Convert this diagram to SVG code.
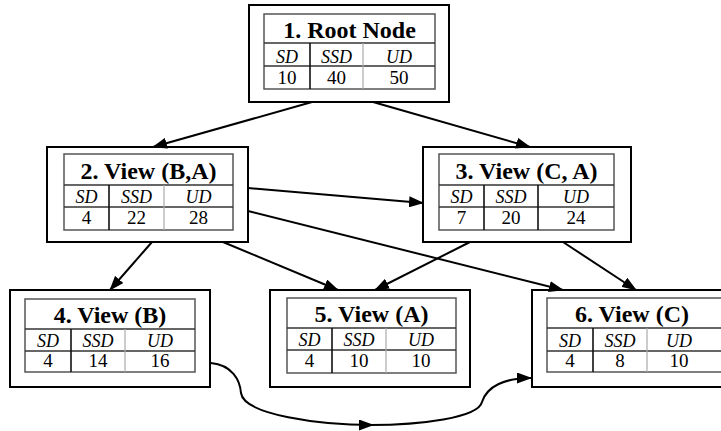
<svg xmlns="http://www.w3.org/2000/svg" width="721" height="431" viewBox="0 0 721 431" font-family="Liberation Serif, Tinos, Times New Roman, serif">
<style>
.outer{fill:#fff;stroke:#000;stroke-width:2}
.tbl{fill:none;stroke:#555;stroke-width:1.5}
.hl{stroke:#333;stroke-width:1.5}
.v1{stroke:#111;stroke-width:1.6}
.v2{stroke:#aaa;stroke-width:1.2}
text{text-anchor:middle;fill:#000}
.title{font-weight:bold;font-size:24px}
.hdr{font-style:italic;font-size:18px}
.num{font-size:19px}
.conn{fill:none;stroke:#000;stroke-width:2}
</style>
<defs>
<marker id="ah" markerWidth="15" markerHeight="11" refX="14" refY="5.5" orient="auto" markerUnits="userSpaceOnUse"><path d="M0,0 L15,5.5 L0,11 z" fill="#000"/></marker>
</defs>
<rect x="0" y="0" width="721" height="431" fill="#fff"/>

<g id="n1">
<rect class="outer" x="249" y="5" width="200" height="97"/>
<rect class="tbl" x="264" y="14" width="171" height="75"/>
<line class="hl" x1="264" y1="43" x2="435" y2="43"/>
<line class="hl" x1="264" y1="66" x2="435" y2="66"/>
<line class="v1" x1="310" y1="43" x2="310" y2="89"/>
<line class="v2" x1="363" y1="43" x2="363" y2="89"/>
<text class="title" x="349.5" y="38">1. Root Node</text>
<text class="hdr" x="287" y="63">SD</text><text class="hdr" x="336.5" y="63">SSD</text><text class="hdr" x="399" y="63">UD</text>
<text class="num" x="287" y="84">10</text><text class="num" x="336.5" y="84">40</text><text class="num" x="399" y="84">50</text>
</g>

<g id="n2">
<rect class="outer" x="47" y="147" width="201" height="95"/>
<rect class="tbl" x="64" y="154" width="169" height="76"/>
<line class="hl" x1="64" y1="185" x2="233" y2="185"/>
<line class="hl" x1="64" y1="207" x2="233" y2="207"/>
<line class="v1" x1="109" y1="185" x2="109" y2="230"/>
<line class="v2" x1="164" y1="185" x2="164" y2="230"/>
<text class="title" x="148.5" y="179">2. View (B,A)</text>
<text class="hdr" x="86.5" y="203">SD</text><text class="hdr" x="136.5" y="203">SSD</text><text class="hdr" x="198.5" y="203">UD</text>
<text class="num" x="86.5" y="224">4</text><text class="num" x="136.5" y="224">22</text><text class="num" x="198.5" y="224">28</text>
</g>

<g id="n3">
<rect class="outer" x="423" y="147" width="208" height="95"/>
<rect class="tbl" x="439" y="154" width="175" height="76"/>
<line class="hl" x1="439" y1="185" x2="614" y2="185"/>
<line class="hl" x1="439" y1="207" x2="614" y2="207"/>
<line class="v1" x1="484" y1="185" x2="484" y2="230"/>
<line class="v1" x1="538" y1="185" x2="538" y2="230"/>
<text class="title" x="526.5" y="179">3. View (C, A)</text>
<text class="hdr" x="461.5" y="203">SD</text><text class="hdr" x="511" y="203">SSD</text><text class="hdr" x="576" y="203">UD</text>
<text class="num" x="461.5" y="224">7</text><text class="num" x="511" y="224">20</text><text class="num" x="576" y="224">24</text>
</g>

<g id="n4">
<rect class="outer" x="10" y="290" width="200" height="97"/>
<rect class="tbl" x="25" y="299" width="170" height="73"/>
<line class="hl" x1="25" y1="329" x2="195" y2="329"/>
<line class="hl" x1="25" y1="351" x2="195" y2="351"/>
<line class="v1" x1="71" y1="329" x2="71" y2="372"/>
<line class="v2" x1="125" y1="329" x2="125" y2="372"/>
<text class="title" x="110" y="323">4. View (B)</text>
<text class="hdr" x="48" y="347">SD</text><text class="hdr" x="98" y="347">SSD</text><text class="hdr" x="160" y="347">UD</text>
<text class="num" x="48" y="367">4</text><text class="num" x="98" y="367">14</text><text class="num" x="160" y="367">16</text>
</g>

<g id="n5">
<rect class="outer" x="270" y="290" width="200" height="97"/>
<rect class="tbl" x="287" y="298" width="169" height="75"/>
<line class="hl" x1="287" y1="328" x2="456" y2="328"/>
<line class="hl" x1="287" y1="350" x2="456" y2="350"/>
<line class="v1" x1="332" y1="328" x2="332" y2="373"/>
<line class="v2" x1="386" y1="328" x2="386" y2="373"/>
<text class="title" x="371.5" y="322">5. View (A)</text>
<text class="hdr" x="309.5" y="346">SD</text><text class="hdr" x="359" y="346">SSD</text><text class="hdr" x="421" y="346">UD</text>
<text class="num" x="309.5" y="367">4</text><text class="num" x="359" y="367">10</text><text class="num" x="421" y="367">10</text>
</g>

<g id="n6">
<rect class="outer" x="532" y="290" width="201" height="97"/>
<rect class="tbl" x="547" y="298" width="180" height="74"/>
<line class="hl" x1="547" y1="328" x2="727" y2="328"/>
<line class="hl" x1="547" y1="351" x2="727" y2="351"/>
<line class="v1" x1="593" y1="328" x2="593" y2="372"/>
<line class="v2" x1="647" y1="328" x2="647" y2="372"/>
<text class="title" x="632" y="322">6. View (C)</text>
<text class="hdr" x="570" y="347">SD</text><text class="hdr" x="620" y="347">SSD</text><text class="hdr" x="679" y="347">UD</text>
<text class="num" x="570" y="367">4</text><text class="num" x="620" y="367">8</text><text class="num" x="679" y="367">10</text>
</g>

<g id="connectors">
<line class="conn" x1="312" y1="102" x2="153" y2="147" marker-end="url(#ah)"/>
<line class="conn" x1="373" y1="102" x2="530" y2="147" marker-end="url(#ah)"/>
<line class="conn" x1="248" y1="188" x2="423" y2="203" marker-end="url(#ah)"/>
<line class="conn" x1="248" y1="211" x2="563" y2="290" marker-end="url(#ah)"/>
<line class="conn" x1="152" y1="242" x2="110" y2="290" marker-end="url(#ah)"/>
<line class="conn" x1="223" y1="242" x2="338" y2="290" marker-end="url(#ah)"/>
<line class="conn" x1="470" y1="242" x2="375" y2="290" marker-end="url(#ah)"/>
<line class="conn" x1="563" y1="242" x2="636" y2="290" marker-end="url(#ah)"/>
<path class="conn" d="M211,363 C232,365 240,380 241,393 C244,415 320,425 373,425" marker-end="url(#ah)"/>
<path class="conn" d="M370,425 C420,425 478,418 482,402 C487,386 505,378 531,378" marker-end="url(#ah)"/>
</g>
</svg>
